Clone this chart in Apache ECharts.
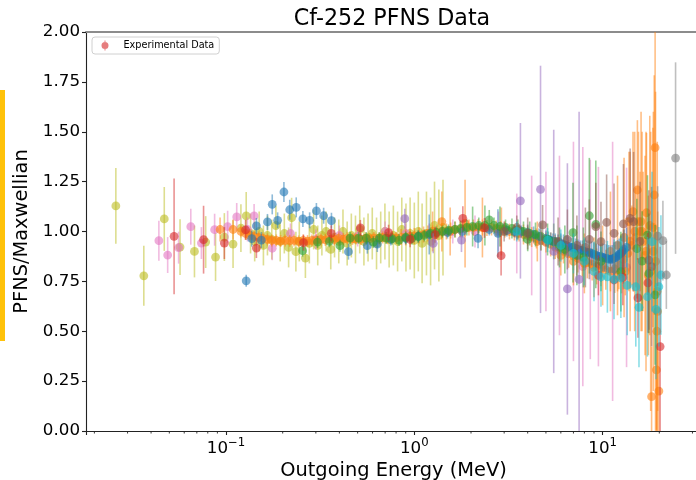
<!DOCTYPE html>
<html><head><meta charset="utf-8">
<script src="https://cdn.jsdelivr.net/npm/echarts@6/dist/echarts.min.js"></script>
<style>html,body{margin:0;padding:0;background:#fff}#c{width:696px;height:480px}</style>
</head><body><div id="c"></div>
<script>
const titleText = 'Cf-252 PFNS Data';
const xAxisLabel = 'Outgoing Energy (MeV)';
const yAxisLabel = 'PFNS/Maxwellian';
const legendLabel = 'Experimental Data';
const xMajorExponents = {'-1': '−1', '0': '0', '1': '1'};
const xMinorTicks = [0.02,0.03,0.04,0.05,0.06,0.07,0.08,0.09,0.2,0.3,0.4,0.5,0.6,0.7,0.8,0.9,2,3,4,5,6,7,8,9,20,30];

// [energy MeV, PFNS/Maxwellian, error]
const oliveData = [[0.026,1.128,0.19],[0.0366,0.778,0.15],[0.047,1.063,0.16],[0.057,0.922,0.14],[0.068,0.90,0.13],[0.078,0.947,0.13],[0.088,0.872,0.12],[0.098,0.972,0.12],[0.109,0.937,0.12],[0.12,1.017,0.12],[0.128,1.078,0.12],
 [0.135,0.99,0.1],[0.142,0.95,0.1],[0.150,1.0,0.1],[0.158,0.93,0.1],[0.166,0.98,0.1],[0.175,0.96,0.1],[0.184,1.03,0.1],[0.194,0.95,0.1],[0.204,0.99,0.1],[0.215,0.92,0.1],[0.223,1.069,0.1],[0.235,0.899,0.1],[0.245,0.95,0.1],[0.264,0.867,0.1],[0.277,0.94,0.1],[0.292,1.01,0.1],[0.307,0.93,0.1],[0.323,0.98,0.1],[0.34,1.0,0.1],[0.36,0.91,0.1],[0.377,0.97,0.1],[0.397,0.95,0.11],[0.418,1.0,0.11],[0.44,0.94,0.11],[0.463,0.98,0.11],[0.487,0.96,0.12],[0.513,1.01,0.12],[0.54,0.95,0.12],[0.568,0.97,0.12],[0.598,0.99,0.13],[0.63,0.94,0.13],[0.663,0.97,0.13],[0.698,1.0,0.14],[0.735,0.96,0.14],[0.774,0.98,0.15],[0.815,0.95,0.15],[0.858,1.01,0.16],[0.903,0.97,0.17],[0.95,0.99,0.18],[1.0,0.955,0.19],[1.05,1.0,0.2],[1.1,0.94,0.2],[1.16,0.99,0.21],[1.22,0.95,0.22],[1.28,1.03,0.22],[1.35,0.98,0.23],[1.42,1.02,0.24]];
const pinkData = [[0.044,0.954,0.1],[0.049,0.882,0.09],[0.056,0.919,0.08],[0.065,1.024,0.09],[0.074,0.942,0.08],[0.087,1.009,0.08],[0.102,1.024,0.08],[0.114,1.073,0.07],[0.13,1.01,0.06],[0.141,1.078,0.06],[0.176,0.916,0.06],[0.22,0.99,0.05],[0.3,0.96,0.05],[0.4,0.98,0.05],[0.5,0.975,0.05],[0.7,1.0,0.05],[0.9,0.99,0.05],[1.2,0.99,0.05],[1.6,1.0,0.06],[2.1,1.0,0.08],[2.8,1.0,0.1],[3.5,0.99,0.2],[4.2,0.98,0.3],[5.0,0.95,0.35],[5.9,0.93,0.45],[7.0,0.9,0.55],[7.85,0.824,0.6],[8.6,0.86,0.5],[9.5,0.824,0.5],[11.3,0.8,0.65],[13.4,0.82,0.5]];
const orangeData = [[0.093,1.01,0.06],[0.109,1.01,0.05],[0.120,1.00,0.03],[0.127,0.99,0.03],[0.134,0.98,0.03],[0.141,0.975,0.03],[0.149,0.97,0.03],[0.157,0.965,0.03],[0.166,0.96,0.03],[0.175,0.955,0.03],[0.185,0.955,0.03],[0.195,0.952,0.03],[0.206,0.955,0.03],[0.218,0.953,0.03],[0.230,0.955,0.03],[0.243,0.95,0.03],[0.257,0.955,0.03],[0.271,0.952,0.03],[0.286,0.955,0.03],[0.302,0.957,0.03],[0.319,0.96,0.03],[0.337,0.958,0.03],[0.356,0.962,0.03],[0.376,0.96,0.03],[0.397,0.965,0.03],[0.42,0.962,0.03],[0.44,0.966,0.03],[0.47,0.963,0.03],[0.49,0.965,0.03],[0.52,0.962,0.03],[0.55,0.966,0.03],[0.58,0.963,0.03],[0.61,0.968,0.03],[0.65,0.965,0.03],[0.68,0.97,0.03],[0.72,0.966,0.03],[0.76,0.97,0.03],[0.80,0.968,0.03],[0.85,0.972,0.04],[0.90,0.97,0.04],[0.95,0.975,0.04],[1.0,0.978,0.04],[1.06,0.98,0.04],[1.12,0.985,0.04],[1.18,0.99,0.04],[1.25,0.99,0.04],[1.32,0.995,0.04],[1.40,1.0,0.04],[1.48,1.0,0.04],[1.56,1.005,0.04],[1.65,1.01,0.04],[1.75,1.01,0.04],[1.85,1.015,0.04],[1.95,1.02,0.04],[2.06,1.02,0.04],[2.18,1.022,0.04],[2.30,1.02,0.04],[2.43,1.018,0.04],[2.57,1.02,0.04],[2.72,1.015,0.04],[2.87,1.012,0.04],[3.03,1.01,0.04],[3.2,1.0,0.04],[3.4,0.995,0.04],[3.6,0.99,0.04],[3.8,0.985,0.05],[4.0,0.98,0.05],[4.2,0.972,0.05],[4.45,0.965,0.05],[4.7,0.955,0.05],[5.0,0.945,0.05],[5.3,0.935,0.06],[5.6,0.922,0.06],[5.9,0.91,0.06],[6.2,0.9,0.06],[6.6,0.888,0.07],[7.0,0.876,0.07],[7.4,0.865,0.07],[7.8,0.855,0.08],[8.3,0.845,0.08],[8.8,0.835,0.08],[9.3,0.825,0.09],[9.8,0.815,0.09],[10.4,0.808,0.1],[11.0,0.80,0.1],[11.6,0.812,0.12],[12.2,0.83,0.12],[12.9,0.86,0.15],[13.6,0.89,0.18],[14.3,0.93,0.2],[15.0,0.97,0.25],[15.3,1.208,0.35],[15.8,1.0,0.3],[16.4,0.95,0.35],[17.1,1.094,0.4],[17.5,0.78,0.4],[18.2,0.172,0.25],[18.5,1.02,0.5],[18.8,1.183,0.6],[19.0,1.42,0.7],[19.3,0.306,0.3],[19.6,0.6,0.5],[19.9,0.2,0.2]];
const orange2Data = [[1.25,1.0,0.1],[1.4,1.05,0.15],[1.55,1.0,0.12],[1.86,1.04,0.22],[2.3,1.02,0.15],[2.9,1.0,0.12],[4.5,0.95,0.1],[6.0,0.88,0.1],[7.0,0.85,0.12],[8.0,0.84,0.15],[9.0,0.82,0.15],[10.0,0.83,0.2],[11.0,0.9,0.3],[12.0,0.93,0.35],[13.0,0.97,0.4],[14.0,0.95,0.45],[14.8,1.0,0.5],[16.0,1.05,0.55],[17.0,0.9,0.6],[18.0,0.8,0.7],[19.5,0.7,0.75]];
const orange3Data = [[12.0,0.78,0.08],[12.6,0.79,0.1],[13.2,0.8,0.12],[13.8,1.05,0.35],[14.5,1.1,0.4],[15.5,1.05,0.45],[16.2,1.0,0.5],[16.8,0.88,0.5],[17.8,1.03,0.55],[18.6,0.9,0.7],[19.1,0.85,0.85],[19.4,0.5,0.5]];
const blueData = [[0.128,0.753,0.03],[0.137,0.964,0.04],[0.145,1.028,0.04],[0.154,0.957,0.04],[0.166,1.048,0.04],[0.176,1.136,0.05],[0.188,1.056,0.04],[0.203,1.198,0.05],[0.218,1.109,0.05],[0.236,1.121,0.05],[0.256,1.063,0.04],[0.278,1.056,0.04],[0.302,1.103,0.04],[0.33,1.079,0.04],[0.363,1.054,0.04],[0.447,0.899,0.04],[0.563,0.929,0.04],[0.636,0.937,0.04],[0.75,0.96,0.03],[0.9,0.965,0.03],[1.05,0.975,0.03],[1.2,0.985,0.1],[1.5,0.995,0.03],[1.8,1.0,0.03],[2.18,0.966,0.05],[2.5,1.01,0.03],[2.78,0.991,0.12],[3.1,1.005,0.03],[3.4,1.0,0.03],[3.7,1.0,0.03],[4.0,0.995,0.04],[4.3,0.985,0.04],[4.6,0.975,0.04],[5.0,0.965,0.04],[5.15,0.96,0.04],[5.3,0.955,0.04],[5.45,0.95,0.04],[5.6,0.95,0.04],[5.8,0.945,0.04],[6.0,0.94,0.05],[6.2,0.935,0.05],[6.4,0.93,0.05],[6.6,0.925,0.05],[6.8,0.92,0.05],[7.0,0.92,0.05],[7.2,0.915,0.05],[7.4,0.91,0.05],[7.6,0.905,0.05],[7.8,0.905,0.05],[8.0,0.9,0.06],[8.25,0.895,0.06],[8.5,0.895,0.06],[8.75,0.89,0.06],[9.0,0.885,0.06],[9.25,0.88,0.06],[9.5,0.875,0.06],[9.75,0.875,0.06],[10.0,0.87,0.07],[10.25,0.868,0.07],[10.5,0.865,0.07],[10.75,0.862,0.07],[11.0,0.86,0.07],[11.25,0.862,0.07],[11.5,0.866,0.08],[11.75,0.87,0.08],[12.0,0.878,0.08],[12.25,0.885,0.08],[12.5,0.89,0.09],[12.75,0.9,0.09],[13.0,0.91,0.1],[13.4,0.92,0.1]];
const greenData = [[0.255,0.904,0.03],[0.306,0.947,0.03],[0.354,0.951,0.03],[0.403,0.929,0.03],[0.456,0.967,0.03],[0.506,0.967,0.03],[0.556,0.967,0.03],[0.606,0.947,0.03],[0.652,0.967,0.03],[0.708,0.967,0.03],[0.762,0.964,0.03],[0.83,0.957,0.03],[0.9,0.97,0.03],[0.97,0.965,0.03],[1.05,0.975,0.03],[1.13,0.98,0.03],[1.22,0.99,0.03],[1.31,0.995,0.03],[1.41,1.0,0.03],[1.52,1.005,0.03],[1.64,1.01,0.04],[1.76,1.015,0.04],[1.9,1.02,0.04],[2.04,1.025,0.1],[2.2,1.03,0.04],[2.37,1.03,0.1],[2.5,1.058,0.05],[2.65,1.03,0.04],[2.85,1.025,0.1],[3.05,1.02,0.04],[3.3,1.015,0.05],[3.55,1.01,0.05],[3.8,1.0,0.05],[4.0,0.961,0.06],[4.1,0.99,0.06],[4.4,0.985,0.06],[4.7,0.975,0.07],[5.1,0.96,0.08],[5.5,0.95,0.09],[5.9,0.92,0.1],[6.3,0.91,0.12],[6.96,0.994,0.25],[7.3,0.88,0.15],[7.9,0.87,0.15],[8.5,1.079,0.29],[9.2,1.036,0.32],[9.8,0.85,0.15],[12.5,0.799,0.2],[15.2,0.914,0.25],[16.2,0.852,0.25],[17.3,0.982,0.3],[17.6,0.79,0.3],[19.0,0.682,0.35]];
const redData = [[0.053,0.976,0.29],[0.076,0.959,0.17],[0.098,0.942,0.08],[0.127,1.008,0.05],[0.145,0.917,0.05],[0.258,0.944,0.04],[0.362,0.991,0.04],[0.517,1.018,0.04],[0.73,0.994,0.04],[0.95,0.961,0.04],[1.29,0.984,0.04],[1.81,1.066,0.06],[2.36,1.018,0.05],[2.89,0.879,0.1],[9.5,0.78,0.1],[11.5,0.757,0.12],[12.8,0.77,0.14],[15.4,0.667,0.2],[17.4,0.742,0.25],[20.2,0.423,0.5]];
const purpleData = [[0.89,1.064,0.05],[1.26,0.941,0.05],[1.78,0.957,0.06],[3.66,1.154,0.39],[4.68,1.211,0.62],[5.5,0.90,0.61],[6.5,0.712,0.63],[7.5,0.76,0.84]];
const brownData = [[3.0,1.0,0.05],[3.5,1.02,0.06],[4.0,0.99,0.08],[4.8,1.033,0.1],[5.8,0.95,0.12],[6.5,0.96,0.15],[7.3,0.93,0.15],[8.1,0.92,0.2],[8.5,0.961,0.2],[9.2,1.024,0.22],[9.8,0.949,0.2],[10.5,1.046,0.24],[11.5,0.991,0.25],[12.9,1.038,0.3],[14.0,1.066,0.35],[14.6,1.049,0.35],[15.8,0.95,0.3],[17.6,0.857,0.35],[18.2,0.824,0.4]];
const cyanData = [[3.5,1.0,0.05],[5.1,0.957,0.06],[6.0,0.93,0.08],[7.0,0.89,0.1],[8.0,0.85,0.12],[9.0,0.80,0.15],[9.8,0.773,0.15],[10.6,0.773,0.18],[11.5,0.76,0.2],[12.5,0.767,0.2],[13.5,0.73,0.25],[15.0,0.723,0.3],[15.6,0.62,0.3],[17.3,0.673,0.3],[18.3,0.949,0.35],[19.2,0.61,0.35],[19.9,0.723,0.3],[20.4,0.782,0.3]];
const grayData = [[19.6,0.977,0.25],[20.9,0.954,0.2],[21.8,0.782,0.17],[24.4,1.368,0.48]];

const FONT = 'DejaVu Sans';
function errSeries(name, data, color, z) {
  return {
    type: 'custom', name: name, data: data, clip: true, z: z,
    itemStyle: { color: color },
    encode: { x: 0, y: 1 },
    renderItem: function (params, api) {
      const x = api.value(0), y = api.value(1), e = api.value(2);
      const c = api.coord([x, y]);
      const t = api.coord([x, y + e]);
      const b = api.coord([x, y - e]);
      return { type: 'group', children: [
        { type: 'line', shape: { x1: c[0], y1: t[1], x2: c[0], y2: b[1] }, style: { stroke: color, lineWidth: 1.6, opacity: 0.5 } },
        { type: 'circle', shape: { cx: c[0], cy: c[1], r: 4.4 }, style: { fill: color, opacity: 0.6 } }
      ]};
    }
  };
}

const chart = echarts.init(document.getElementById('c'), null, { renderer: 'canvas' });
const xMin = 0.01805, xMax = 33.3;
chart.setOption({
  animation: false,
  backgroundColor: '#fff',
  title: { text: titleText, left: 392, top: 8, textAlign: 'center', padding: 0,
    textStyle: { fontFamily: FONT, fontSize: 22.2, fontWeight: 'normal', color: '#000' } },
  legend: {
    left: 92, top: 37, padding: [3.5, 5, 3.5, 9.5], borderColor: '#d0d0d0', borderWidth: 1, borderRadius: 3,
    backgroundColor: '#fff', itemWidth: 7, itemHeight: 10,
    data: [{ name: legendLabel, icon: 'path://M3,0h1v10h-1z M7,5 A3.5,3.5 0 1,1 0,5 A3.5,3.5 0 1,1 7,5 Z', itemStyle: { color: '#d62728', opacity: 0.6 } }],
    textStyle: { fontFamily: FONT, fontSize: 9.7, color: '#000', padding: [0, 0, 0, 10] }
  },
  grid: { left: 86, right: -5, top: 32, bottom: 49, containLabel: false, outerBoundsMode: 'none' },
  xAxis: [{
    type: 'log', logBase: 10, min: xMin, max: xMax,
    name: xAxisLabel, nameLocation: 'middle', nameGap: 24,
    nameTextStyle: { fontFamily: FONT, fontSize: 19.4, color: '#000' },
    axisLine: { show: true, lineStyle: { color: '#222', width: 1.1 } },
    axisTick: { show: true, length: 4, lineStyle: { color: '#222', width: 1.1 } },
    splitLine: { show: false }, minorTick: { show: false },
    axisLabel: {
      margin: 6, color: '#000', fontFamily: FONT,
      formatter: function (v) {
        const p = Math.log10(v), r = Math.round(p);
        if (Math.abs(p - r) > 1e-6 || xMajorExponents[String(r)] === undefined) return '';
        return '{b|10}{s|' + xMajorExponents[String(r)] + '}';
      },
      rich: {
        b: { fontFamily: FONT, fontSize: 16.7, color: '#000', verticalAlign: 'bottom' },
        s: { fontFamily: FONT, fontSize: 11.7, color: '#000', verticalAlign: 'bottom', padding: [0, 0, 8, 0] }
      }
    }
  }, {
    type: 'log', logBase: 10, min: xMin, max: xMax, position: 'top',
    axisLine: { show: true, lineStyle: { color: '#8c8c8c', width: 2 } },
    axisTick: { show: false }, axisLabel: { show: false }, splitLine: { show: false }
  }],
  yAxis: {
    type: 'value', min: 0, max: 2, interval: 0.25,
    name: yAxisLabel, nameLocation: 'middle', nameGap: 53, nameRotate: 90,
    nameTextStyle: { fontFamily: FONT, fontSize: 19.4, color: '#000' },
    axisLine: { show: true, lineStyle: { color: '#222', width: 1.1 } },
    axisTick: { show: true, length: 4, lineStyle: { color: '#222', width: 1.1 } },
    splitLine: { show: false },
    axisLabel: { margin: 6, color: '#000', fontFamily: FONT, fontSize: 16.7, formatter: function (v) { return v.toFixed(2); } }
  },
  graphic: [{ type: 'rect', left: 0, top: 90, shape: { width: 5, height: 251 }, style: { fill: '#FFC20A' } }],
  series: [
    errSeries('olive', oliveData, '#bcbd22', 2),
    errSeries('pink', pinkData, '#e377c2', 2),
    errSeries('orange', orangeData, '#ff7f0e', 2),
    errSeries('orange2', orange2Data, '#ff7f0e', 2),
    errSeries('orange3', orange3Data, '#ff7f0e', 2),
    errSeries('blue', blueData, '#1f77b4', 2),
    errSeries('green', greenData, '#2ca02c', 2),
    errSeries(legendLabel, redData, '#d62728', 2),
    errSeries('purple', purpleData, '#9467bd', 2),
    errSeries('brown', brownData, '#8c564b', 2),
    errSeries('cyan', cyanData, '#17becf', 2),
    errSeries('gray', grayData, '#7f7f7f', 2),
    {
      type: 'custom', name: 'minorTicks', silent: true, clip: false, z: 5,
      data: xMinorTicks.map(function (v) { return [v, 0]; }),
      encode: { x: 0, y: 1 },
      renderItem: function (params, api) {
        const p = api.coord([api.value(0), 0]);
        return { type: 'line', shape: { x1: p[0], y1: p[1], x2: p[0], y2: p[1] + 2.5 }, style: { stroke: '#222', lineWidth: 0.9 } };
      }
    }
  ]
});
</script></body></html>
